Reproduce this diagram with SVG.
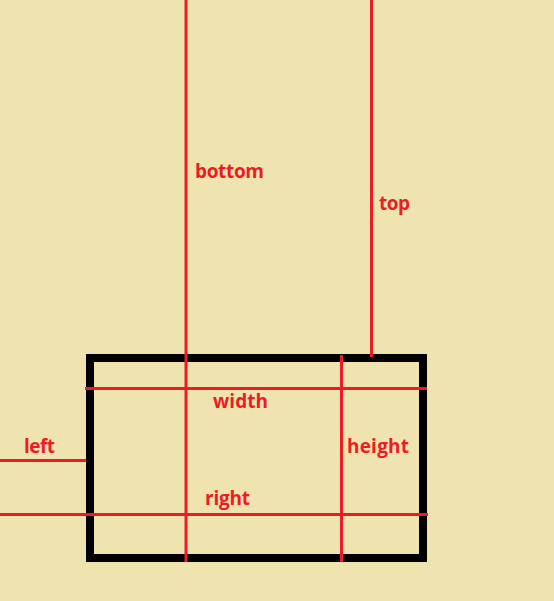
<svg xmlns="http://www.w3.org/2000/svg" width="554" height="601" viewBox="0 0 554 601">
<style>
.ln{stroke:#ED1C24;stroke-width:3;fill:none}
.lb{fill:#ED1C24;font-family:"Open Sans","Noto Sans",sans-serif;font-weight:bold;font-size:19px}
</style>
<rect width="554" height="601" fill="#EFE4B0"/>
<g id="box"><rect x="90" y="358" width="333" height="200" fill="none" stroke="#000" stroke-width="8"/></g>
<g id="connectors">
<line class="ln" x1="186" y1="0" x2="186" y2="562"/>
<line class="ln" x1="371.5" y1="0" x2="371.5" y2="357"/>
<line class="ln" x1="341.5" y1="355" x2="341.5" y2="562"/>
<line class="ln" x1="85" y1="388.5" x2="427" y2="388.5"/>
<line class="ln" x1="0" y1="460.5" x2="86" y2="460.5"/>
<line class="ln" x1="0" y1="514.5" x2="428" y2="514.5"/>
</g>
<g id="labels">
<text class="lb" x="195" y="178" textLength="69">bottom</text>
<text class="lb" x="379" y="210" textLength="31">top</text>
<text class="lb" x="213" y="408" textLength="55">width</text>
<text class="lb" x="347" y="453" textLength="62">height</text>
<text class="lb" x="24" y="453" textLength="31">left</text>
<text class="lb" x="205" y="505" textLength="45">right</text>
</g>
</svg>
